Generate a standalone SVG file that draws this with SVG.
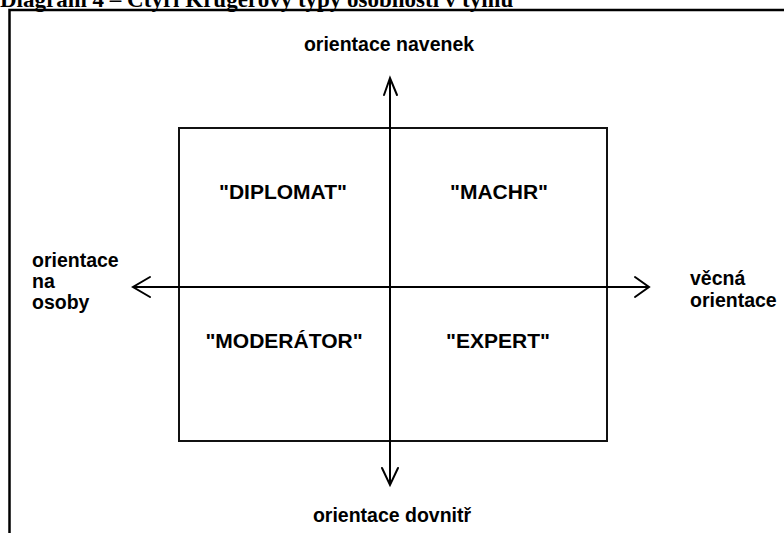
<svg xmlns="http://www.w3.org/2000/svg" width="784" height="533" viewBox="0 0 784 533">
  <style>
    .title { font-family: "Liberation Serif", "Times New Roman", serif; font-weight: bold; font-size: 23px; fill: #000; }
    .lbl { font-family: "Liberation Sans", Arial, sans-serif; font-weight: bold; font-size: 19.5px; fill: #000; }
    .quad { font-family: "Liberation Sans", Arial, sans-serif; font-weight: bold; font-size: 21px; fill: #000; text-anchor: middle; }
    .frame { fill: none; stroke: #000; stroke-width: 2.5; }
    .box { fill: none; stroke: #111; stroke-width: 2; }
    .axis { fill: none; stroke: #000; stroke-width: 2; }
    .head { fill: none; stroke: #000; stroke-width: 2; stroke-linecap: round; stroke-linejoin: miter; }
  </style>

  <rect width="784" height="533" fill="#fff"/>

  <!-- heading, partly above the top edge -->
  <text class="title" x="0" y="7">Diagram 4 – Čtyři Krügerovy typy osobnosti v týmu</text>

  <!-- outer frame: top and left edges -->
  <path class="frame" d="M9.5,533 V10 H784"/>

  <!-- quadrant box -->
  <g id="box">
    <rect class="box" x="179" y="128" width="428" height="313"/>
  </g>

  <!-- axes with open arrowheads -->
  <g id="connectors">
    <line class="axis" x1="390" y1="78" x2="390" y2="485"/>
    <line class="axis" x1="133" y1="287" x2="649" y2="287"/>
    <path class="head" d="M384,95 L390,78 L397,95"/>
    <path class="head" d="M382,468 L390,485 L398,468"/>
    <path class="head" d="M150,277 L133,287 L150,297"/>
    <path class="head" d="M635,277 L649,287 L635,297"/>
  </g>

  <!-- quadrant types -->
  <g id="diplomat"><text class="quad" x="283" y="199">"DIPLOMAT"</text></g>
  <g id="machr"><text class="quad" x="499" y="199">"MACHR"</text></g>
  <g id="moderator"><text class="quad" x="284" y="348">"MODERÁTOR"</text></g>
  <g id="expert"><text class="quad" x="498" y="348">"EXPERT"</text></g>

  <!-- axis labels -->
  <g id="label-top"><text class="lbl" x="389" y="51" text-anchor="middle">orientace navenek</text></g>
  <g id="label-bottom"><text class="lbl" x="392" y="522" text-anchor="middle">orientace dovnitř</text></g>
  <g id="label-left">
    <text class="lbl" x="32" y="267">orientace</text>
    <text class="lbl" x="32" y="288">na</text>
    <text class="lbl" x="32" y="309">osoby</text>
  </g>
  <g id="label-right">
    <text class="lbl" x="690" y="285">věcná</text>
    <text class="lbl" x="690" y="307">orientace</text>
  </g>
</svg>
